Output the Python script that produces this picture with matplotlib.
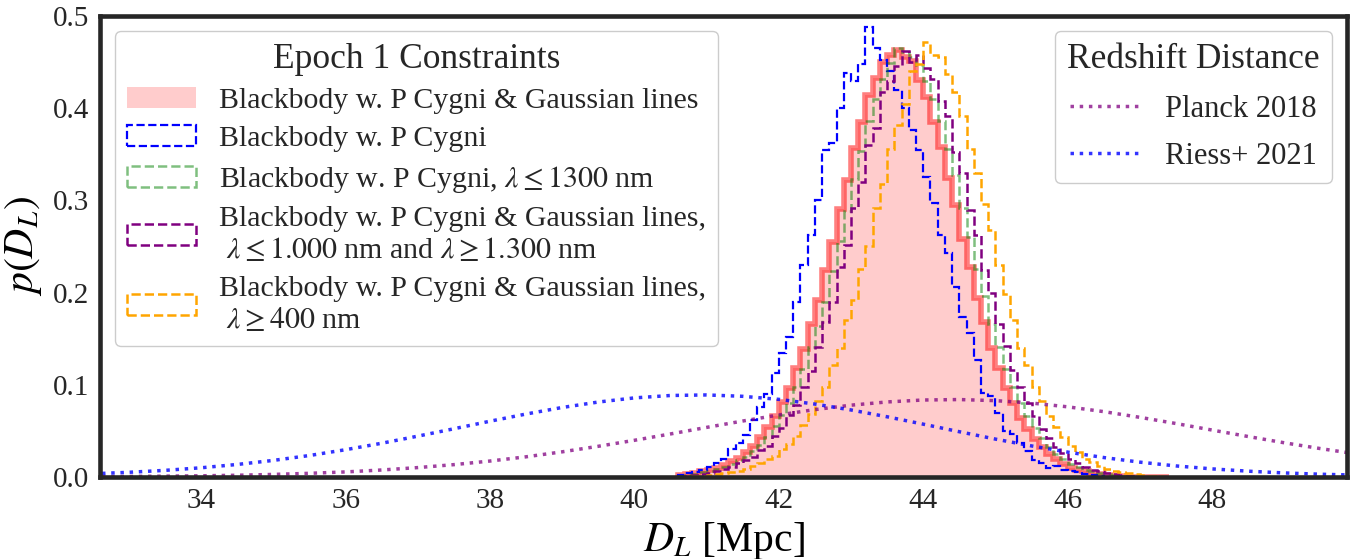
import numpy as np
import matplotlib
matplotlib.use('Agg')
import matplotlib.pyplot as plt

# histogram bins (Mpc)
bin_lo, bin_w, n_bins = 40.6, 0.1, 68

# p(D_L) per bin
red_vals = [0.002, 0.003, 0.004, 0.006, 0.008, 0.010, 0.013, 0.017, 0.021, 0.027,
            0.034, 0.043, 0.054, 0.066, 0.081, 0.097, 0.118, 0.139, 0.166, 0.192,
            0.225, 0.255, 0.291, 0.322, 0.357, 0.385, 0.414, 0.433, 0.450, 0.458,
            0.463, 0.456, 0.451, 0.431, 0.412, 0.385, 0.358, 0.324, 0.295, 0.258,
            0.228, 0.194, 0.168, 0.140, 0.118, 0.096, 0.080, 0.064, 0.052, 0.041,
            0.032, 0.025, 0.019, 0.014, 0.010, 0.008, 0.006, 0.004, 0.003, 0.002,
            0.001, 0.001, 0.0, 0.0, 0.0, 0.0, 0.0, 0.0]
blue_vals = [0.002, 0.004, 0.005, 0.008, 0.011, 0.015, 0.019, 0.030, 0.037, 0.046,
             0.062, 0.076, 0.090, 0.113, 0.134, 0.152, 0.190, 0.230, 0.262, 0.300,
             0.355, 0.362, 0.400, 0.438, 0.430, 0.448, 0.488, 0.465, 0.452, 0.440,
             0.420, 0.400, 0.376, 0.355, 0.325, 0.297, 0.262, 0.243, 0.206, 0.173,
             0.156, 0.127, 0.091, 0.088, 0.069, 0.050, 0.047, 0.037, 0.028, 0.018,
             0.015, 0.010, 0.012, 0.008, 0.006, 0.005, 0.003, 0.002, 0.001, 0.0,
             0.0, 0.0, 0.0, 0.0, 0.0, 0.0, 0.0, 0.0]
green_vals = [0.001, 0.002, 0.003, 0.005, 0.006, 0.009, 0.011, 0.014, 0.018, 0.022,
              0.028, 0.035, 0.043, 0.055, 0.067, 0.080, 0.098, 0.117, 0.141, 0.164,
              0.190, 0.223, 0.256, 0.288, 0.323, 0.354, 0.386, 0.410, 0.432, 0.449,
              0.465, 0.461, 0.455, 0.447, 0.430, 0.410, 0.386, 0.356, 0.327, 0.292,
              0.260, 0.226, 0.196, 0.166, 0.141, 0.117, 0.098, 0.080, 0.066, 0.053,
              0.042, 0.033, 0.025, 0.020, 0.014, 0.011, 0.008, 0.006, 0.004, 0.003,
              0.002, 0.001, 0.001, 0.0, 0.0, 0.0, 0.0, 0.0]
purple_vals = [0.000, 0.001, 0.002, 0.003, 0.004, 0.006, 0.009, 0.011, 0.015, 0.018,
               0.022, 0.029, 0.034, 0.044, 0.053, 0.067, 0.078, 0.098, 0.115, 0.141,
               0.168, 0.190, 0.228, 0.252, 0.292, 0.320, 0.360, 0.378, 0.418, 0.430,
               0.446, 0.462, 0.450, 0.458, 0.444, 0.432, 0.408, 0.392, 0.352, 0.330,
               0.290, 0.262, 0.224, 0.200, 0.166, 0.142, 0.116, 0.098, 0.080, 0.066,
               0.052, 0.042, 0.032, 0.026, 0.019, 0.015, 0.011, 0.008, 0.006, 0.004,
               0.003, 0.002, 0.001, 0.001, 0.0, 0.0, 0.0, 0.0]
orange_vals = [0.000, 0.000, 0.001, 0.001, 0.002, 0.003, 0.004, 0.005, 0.007, 0.009,
               0.012, 0.015, 0.019, 0.023, 0.030, 0.036, 0.045, 0.056, 0.068, 0.082,
               0.098, 0.121, 0.140, 0.170, 0.192, 0.226, 0.250, 0.292, 0.318, 0.356,
               0.382, 0.405, 0.440, 0.448, 0.472, 0.458, 0.455, 0.437, 0.418, 0.392,
               0.356, 0.330, 0.296, 0.268, 0.230, 0.198, 0.170, 0.140, 0.121, 0.098,
               0.082, 0.066, 0.054, 0.043, 0.034, 0.027, 0.020, 0.016, 0.012, 0.009,
               0.007, 0.005, 0.004, 0.003, 0.002, 0.001, 0.001, 0.000]

# redshift-distance curves, sampled every 0.5 Mpc from 32.5 to 50
curve_x0, curve_dx = 32.5, 0.5
planck_vals = [0.0004, 0.0006, 0.0009, 0.0013, 0.0019, 0.0028, 0.0040, 0.0055, 0.0076, 0.0102,
               0.0134, 0.0173, 0.0219, 0.0273, 0.0333, 0.0398, 0.0467, 0.0538, 0.0607, 0.0673,
               0.0731, 0.0779, 0.0814, 0.0835, 0.0840, 0.0828, 0.0802, 0.0761, 0.0709, 0.0647,
               0.0580, 0.0509, 0.0439, 0.0371, 0.0308, 0.0250]
riess_vals = [0.0035, 0.0051, 0.0072, 0.0100, 0.0136, 0.0180, 0.0233, 0.0296, 0.0366, 0.0443,
              0.0523, 0.0605, 0.0683, 0.0754, 0.0813, 0.0858, 0.0884, 0.0890, 0.0875, 0.0842,
              0.0791, 0.0727, 0.0653, 0.0573, 0.0491, 0.0411, 0.0337, 0.0270, 0.0211, 0.0161,
              0.0120, 0.0088, 0.0063, 0.0044, 0.0030, 0.0020]

labels = ['Blackbody w. P Cygni & Gaussian lines',
          'Blackbody w. P Cygni',
          r'Blackbody w. P Cygni, $\lambda \leq 1300$ nm',
          'Blackbody w. P Cygni & Gaussian lines,\n' + r' $\lambda \leq 1.000$ nm and $\lambda \geq 1.300$ nm',
          'Blackbody w. P Cygni & Gaussian lines,\n' + r' $\lambda \geq 400$ nm']

plt.rcParams['font.family'] = 'serif'
plt.rcParams['font.serif'] = ['Liberation Serif', 'DejaVu Serif']
plt.rcParams['mathtext.fontset'] = 'stix'
plt.rcParams['text.color'] = '#262626'

edges = np.round(bin_lo + bin_w * np.arange(n_bins + 1), 3)
centers = edges[:-1] + bin_w / 2
cx = curve_x0 + curve_dx * np.arange(len(planck_vals))

fig = plt.figure(figsize=(13.65, 5.59), dpi=100)
ax = fig.add_axes([0.0733, 0.1467, 0.9136, 0.8247])

h_fill = ax.hist(centers, bins=edges, weights=red_vals, histtype='stepfilled',
                 color='red', alpha=0.2, edgecolor='none', label=labels[0])[2][0]
ax.hist(centers, bins=edges, weights=red_vals, histtype='step',
        color='red', alpha=0.5, lw=4)
h_blue = ax.hist(centers, bins=edges, weights=blue_vals, histtype='step',
                 color='blue', ls='--', lw=1.6, label=labels[1])[2][0]
h_green = ax.hist(centers, bins=edges, weights=green_vals, histtype='step',
                  color='green', alpha=0.5, ls='--', lw=1.8, label=labels[2])[2][0]
h_purple = ax.hist(centers, bins=edges, weights=purple_vals, histtype='step',
                   color='purple', ls='--', lw=1.8, label=labels[3])[2][0]
h_orange = ax.hist(centers, bins=edges, weights=orange_vals, histtype='step',
                   color='orange', ls='--', lw=1.8, label=labels[4])[2][0]

l_planck, = ax.plot(cx, planck_vals, ls=':', color='purple', alpha=0.75, lw=2.5, label='Planck 2018')
l_riess, = ax.plot(cx, riess_vals, ls=':', color='blue', alpha=0.8, lw=2.5, label='Riess+ 2021')

ax.set_xlim(32.6, 49.87)
ax.set_ylim(0, 0.5)
ax.set_xticks([34, 36, 38, 40, 42, 44, 46, 48])
ax.set_yticks([0.0, 0.1, 0.2, 0.3, 0.4, 0.5])
ax.tick_params(length=0, labelsize=21, pad=8, colors='#262626')
for s in ax.spines.values():
    s.set_linewidth(3.3)
    s.set_color('#262626')
ax.set_xlabel(r'$D_L$ [Mpc]', fontsize=30, labelpad=4)
ax.set_ylabel(r'$p(D_L)$', fontsize=30, labelpad=6)

leg_kw = dict(title_fontsize=25.5, handletextpad=0.8, edgecolor='#cccccc', framealpha=1)
leg1 = ax.legend(handles=[h_fill, h_blue, h_green, h_purple, h_orange],
                 loc='upper left', title='Epoch 1 Constraints', fontsize=21.5,
                 handlelength=2.3, labelspacing=0.38, **leg_kw)
ax.add_artist(leg1)
ax.legend(handles=[l_planck, l_riess], loc='upper right', fontsize=22,
          title='Redshift Distance', handlelength=2.3, labelspacing=0.6, **leg_kw)

fig.savefig('out.png', dpi=100)
